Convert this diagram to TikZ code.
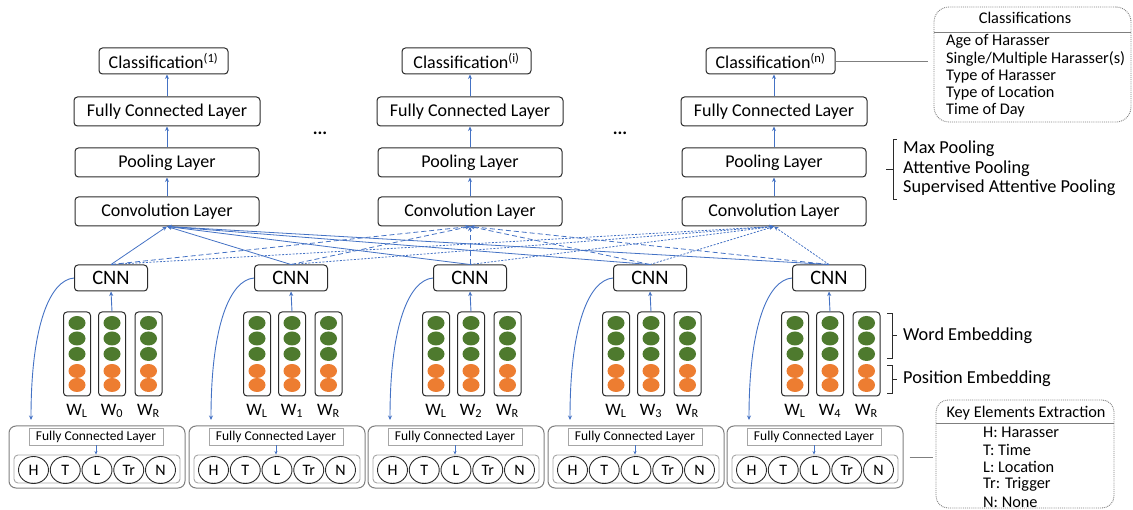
\documentclass[tikz,border=0pt]{standalone}
\usepackage{fontspec}
\setmainfont{Carlito}
\usetikzlibrary{arrows.meta,shapes.geometric}
\definecolor{lblue}{HTML}{4472C4}
\definecolor{dgreen}{HTML}{4E7A2E}
\definecolor{orng}{HTML}{ED7D31}
\definecolor{bord}{HTML}{2B2B2B}
\definecolor{lgray}{HTML}{A6A6A6}
\definecolor{mgray}{HTML}{7F7F7F}
\begin{document}
\begin{tikzpicture}[x=1pt,y=-1pt,
  box/.style={draw=bord, rounded corners=3.5pt, line width=1pt, inner sep=0pt, font=\fontsize{18}{20}\selectfont},
  cnnbox/.style={box, minimum width=73pt, minimum height=26pt, font=\fontsize{20.5}{22}\selectfont},
  upar/.style={draw=lblue, line width=0.9pt, -{Stealth[length=4.5pt,width=4pt]}},
  conar/.style={draw=lblue, line width=0.8pt, -{Stealth[length=4.5pt,width=4pt]}},
  dashtwo/.style={dash pattern=on 5pt off 3pt},
  dotthree/.style={dash pattern=on 2pt off 1.5pt},
  embcol/.style={draw=bord, rounded corners=3.5pt, line width=1pt, minimum width=27pt, minimum height=84pt, inner sep=0pt},
  wlab/.style={font=\fontsize{17.5}{19}\selectfont, inner sep=0pt},
  outerbox/.style={draw=mgray, rounded corners=7pt, line width=1pt, minimum width=176pt, minimum height=62pt, inner sep=0pt},
  fcsmall/.style={draw=lgray, line width=0.9pt, minimum width=134pt, minimum height=17pt, inner sep=0pt, font=\fontsize{13.5}{14}\selectfont},
  innerbox/.style={draw=lgray, rounded corners=4pt, line width=0.9pt, minimum width=166pt, minimum height=28pt, inner sep=0pt},
  circ/.style={draw=bord, ellipse, line width=0.9pt, minimum width=30pt, minimum height=27pt, inner sep=0pt, font=\fontsize{16}{17}\selectfont},
  smallar/.style={draw=lblue, line width=0.7pt, -{Stealth[length=3.5pt,width=3pt]}},
  legbox/.style={draw=mgray, densely dotted, line width=0.9pt, inner sep=0pt},
  legtxt/.style={font=\fontsize{16.3}{18}\selectfont, inner sep=0pt, anchor=west},
  sidetxt/.style={font=\fontsize{18.3}{20}\selectfont, inner sep=0pt, anchor=west},
  brk/.style={draw=bord, line width=0.9pt}
]
\useasboundingbox (0,0) rectangle (1133,510);

% top columns
\foreach \i/\x/\s in {1/167/1, 2/470/i, 3/774/n} {
  \node[box, minimum width=129pt, minimum height=26pt] (cls\i) at (\x-3.5,61) {Classification\textsuperscript{(\s)}};
  \node[box, minimum width=186pt, minimum height=29pt] (fc\i) at (\x,111.5) {Fully Connected Layer};
  \node[box, minimum width=184pt, minimum height=29pt] (pool\i) at (\x,162.5) {Pooling Layer};
  \node[box, minimum width=184pt, minimum height=29pt] (conv\i) at (\x,211.5) {Convolution Layer};
  \draw[upar] (conv\i.north) -- (pool\i.south);
  \draw[upar] (pool\i.north) -- (fc\i.south);
  \draw[upar] (fc\i.north) -- (fc\i.north |- cls\i.south);
}
\node[font=\fontsize{18}{20}\selectfont\bfseries] (dots1) at (320,133) {...};
\node[font=\fontsize{18}{20}\selectfont\bfseries] (dots2) at (620,133) {...};

% lower part
\foreach \j/\c/\w in {1/111/0, 2/291/1, 3/470/2, 4/650/3, 5/829/4} {
  \node[cnnbox] (cnn\j) at (\c,278) {CNN};
  \foreach \k/\dx in {a/-34, b/1, c/37.5} {
    \node[embcol] (e\j\k) at (\c+\dx,354) {};
    \foreach \yy in {323,338.5,354} \fill[dgreen] (\c+\dx,\yy) ellipse (8.5 and 7);
    \foreach \yy in {371,385} \fill[orng] (\c+\dx,\yy) ellipse (8.5 and 7);
  }
  \node[wlab] (wl\j) at (\c-34,411) {W\textsubscript{L}};
  \node[wlab] (wm\j) at (\c+1,411) {W\textsubscript{\w}};
  \node[wlab] (wr\j) at (\c+37.5,411) {W\textsubscript{R}};
  \draw[upar] (e\j b.north) -- (cnn\j.south);
  \node[outerbox] (bb\j) at (\c-14,457) {};
  \node[fcsmall] (bf\j) at (\c-15,436.5) {Fully Connected Layer};
  \node[innerbox] (bi\j) at (\c-14,469) {};
  \draw[smallar] (bf\j.south) -- (bf\j.south |- bi\j.north);
  \foreach \l/\dx in {H/-63.5, T/-31.75, L/0, Tr/31.75, N/63.5}
    \node[circ] (k\j\l) at (\c-14+\dx,470) {\l};
  \coordinate (ct\j) at (\c-80,420);
  \draw[upar] (cnn\j.west) .. controls +(-24,2) and +(0,-95) .. (ct\j);
}

% CNN -> convolution connections
\foreach \j in {1,...,5} {
  \draw[conar] (cnn\j.north) -- (conv1.south);
  \draw[conar, dashtwo] (cnn\j.north) -- (conv2.south);
  \draw[conar, dotthree] (cnn\j.north) -- (conv3.south);
}

% classifications legend
\node[legbox, rounded corners=15pt, minimum width=197pt, minimum height=115pt] (clsleg) at (1032.5,64.5) {};
\node[font=\fontsize{16.3}{18}\selectfont, inner sep=0pt] (clstitle) at (1025,18) {Classifications};
\draw[mgray, line width=0.7pt] (clsleg.west |- 0,32) -- (clsleg.east |- 0,32);
\node[legtxt] (c1) at (946,41) {Age of Harasser};
\node[legtxt] (c2) at (946,58.5) {Single/Multiple Harasser(s)};
\node[legtxt] (c3) at (946,76) {Type of Harasser};
\node[legtxt] (c4) at (946,93) {Type of Location};
\node[legtxt] (c5) at (946,110.5) {Time of Day};
\draw[mgray, line width=0.8pt] (cls3.east) -- ([xshift=-6pt]cls3.east -| clsleg.west);

% pooling bracket
\draw[brk] (897,139) -- (893,139) -- (893,199) -- (897,199);
\draw[brk] (893,169) -- (886,169);
\node[sidetxt] (p1) at (903,149) {Max Pooling};
\node[sidetxt] (p2) at (903,169) {Attentive Pooling};
\node[sidetxt] (p3) at (903,188) {Supervised Attentive Pooling};

% embedding brackets
\draw[brk] (887,313) -- (892,313) -- (892,358) -- (887,358);
\draw[brk] (892,335.5) -- (897,335.5);
\node[sidetxt] (we) at (903,335.5) {Word Embedding};
\draw[brk] (887,365) -- (892,365) -- (892,393) -- (887,393);
\draw[brk] (892,379) -- (897,379);
\node[sidetxt] (pe) at (903,379) {Position Embedding};

% key elements legend
\node[legbox, rounded corners=12pt, minimum width=178pt, minimum height=108pt] (kleg) at (1025,454) {};
\node[font=\fontsize{16.3}{18}\selectfont, inner sep=0pt] (ktitle) at (1026,413) {Key Elements Extraction};
\draw[mgray, line width=0.7pt] (kleg.west |- 0,423) -- (kleg.east |- 0,423);
\node[legtxt] (k1) at (983,432) {H: Harasser};
\node[legtxt] (k2) at (983,449.5) {T: Time};
\node[legtxt] (k3) at (983,467) {L: Location};
\node[legtxt] (k4) at (983,484.5) {Tr: Trigger};
\node[legtxt] (k5) at (983,502) {N: None};
\draw[mgray, line width=0.8pt] ([xshift=6pt]bb5.east) -- ([xshift=-3pt]bb5.east -| kleg.west);
\end{tikzpicture}
\end{document}
